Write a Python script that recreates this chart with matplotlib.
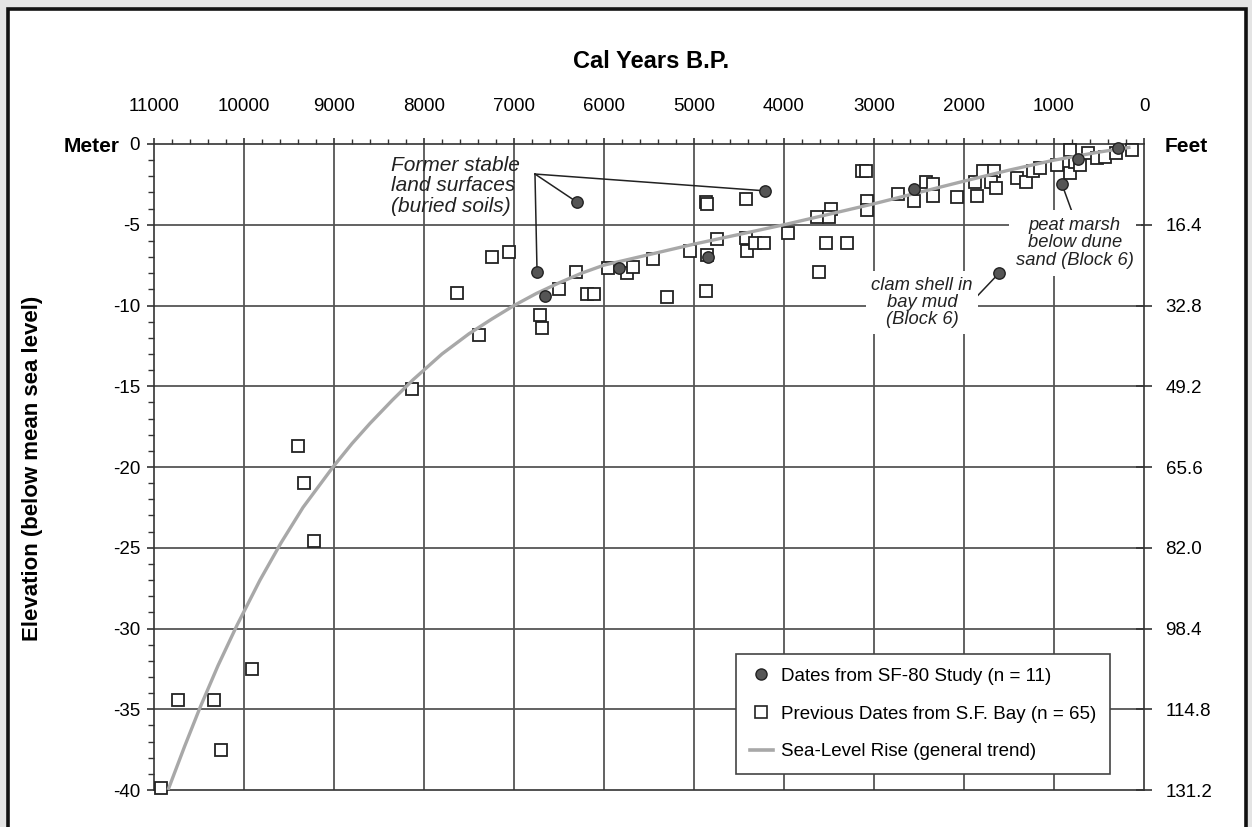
import matplotlib
matplotlib.use("Agg")
import matplotlib.pyplot as plt
from matplotlib.patches import Rectangle
from matplotlib.lines import Line2D
from matplotlib.ticker import MultipleLocator

plt.rcParams['font.family'] = ['Liberation Sans', 'DejaVu Sans']
plt.rcParams['axes.unicode_minus'] = False

# ---------------- data ----------------
# SF-80 study dates (filled circles)
sf80_years = [6300, 4211, 6744, 6656, 5833, 4844, 2556, 911, 1611, 289, 733]
sf80_elev = [-3.6, -2.9, -7.9, -9.4, -7.7, -7.0, -2.8, -2.5, -8.0, -0.25, -0.9]

# Previous dates from S.F. Bay (open squares)
prev_years = [8133, 9400, 9333, 9222, 9911, 10733, 10333, 10256, 10922,
              7244, 7056, 7633, 7389, 6711, 6689,
              6311, 6500, 6189, 6111, 5956,
              5744, 5678, 5456, 5300, 5044, 4867, 4856, 4856, 4867, 4744, 4422, 4422, 4411,
              4322, 4222, 3956, 3633, 3478, 3500, 3533, 3300, 3611, 3133, 3089, 3078, 3078,
              2733, 2556, 2422, 2344, 2344, 2078, 1878, 1856, 1789, 1667, 1700, 1644,
              1411, 1311, 1233, 1156, 967, 822, 822, 767, 711, 622, 522, 433, 311, 133]
prev_elev = [-15.2, -18.7, -21.0, -24.6, -32.5, -34.4, -34.4, -37.5, -39.9,
             -7.0, -6.7, -9.2, -11.8, -10.6, -11.4,
             -7.9, -9.0, -9.3, -9.3, -7.7,
             -8.0, -7.6, -7.1, -9.5, -6.6, -3.6, -3.7, -6.9, -9.1, -5.9, -3.4, -5.8, -6.6,
             -6.1, -6.1, -5.5, -4.5, -4.0, -4.5, -6.1, -6.1, -7.9, -1.7, -1.7, -3.5, -4.1,
             -3.1, -3.5, -2.35, -2.5, -3.2, -3.3, -2.35, -3.2, -1.7, -1.7, -2.35, -2.7,
             -2.1, -2.35, -1.7, -1.5, -1.3, -0.4, -1.8, -1.1, -1.3, -0.55, -0.85, -0.8, -0.55, -0.37]

# Sea-level rise general trend
trend_years = [10844, 10660, 10489, 10289, 10078, 9822, 9589, 9344, 9011, 8800,
               8600, 8350, 8122, 7800, 7500, 7250, 7000, 6750, 6500, 6250, 6000,
               5500, 5000, 4500, 4000, 3500, 3000, 2500, 2000, 1500, 1000, 500, 150]
trend_elev = [-40, -37.3, -34.9, -32.3, -29.8, -27.0, -24.7, -22.5, -20, -18.55,
              -17.3, -15.85, -14.6, -13.0, -11.75, -10.85, -10.0, -9.25, -8.6, -8.0, -7.5,
              -6.85, -6.2, -5.6, -5.0, -4.35, -3.7, -3.0, -2.3, -1.62, -1.0, -0.5, -0.2]

x_ticks = [11000, 10000, 9000, 8000, 7000, 6000, 5000, 4000, 3000, 2000, 1000, 0]
m_ticks = [0, -5, -10, -15, -20, -25, -30, -35, -40]
feet_ticks = [-5, -10, -15, -20, -25, -30, -35, -40]
feet_labels = ['16.4', '32.8', '49.2', '65.6', '82.0', '98.4', '114.8', '131.2']

# ---------------- figure ----------------
W, H = 1252, 827
fig = plt.figure(figsize=(W / 100, H / 100), dpi=100, facecolor='#e4e4e4')

# white page with black frame
fig.patches.append(Rectangle((8 / W, -0.05), (1246 - 8) / W, (H - 9) / H + 0.05,
                             transform=fig.transFigure, facecolor='white',
                             edgecolor='#111111', linewidth=2.6, zorder=-10))

L, R, T, B = 154, 1144, 144, 790
ax = fig.add_axes([L / W, (H - B) / H, (R - L) / W, (B - T) / H])
ax.set_facecolor('none')

ax.set_xlim(11000, 0)
ax.set_ylim(-40, 0)

grid_c = '#555555'
for xv in x_ticks[1:-1]:
    ax.axvline(xv, color=grid_c, lw=1.3, zorder=1)
for yv in m_ticks[1:-1]:
    ax.axhline(yv, color=grid_c, lw=1.3, zorder=1)

# data
ax.plot(prev_years, prev_elev, ls='none', marker='s', ms=8.8, mfc='white',
        mec='#222222', mew=1.3, zorder=3, clip_on=False)
ax.plot(trend_years, trend_elev, color='#a8a8a8', lw=2.4, zorder=4,
        solid_capstyle='butt', solid_joinstyle='round')
ax.plot(sf80_years, sf80_elev, ls='none', marker='o', ms=8.2, mfc='#555555',
        mec='#222222', mew=1.0, zorder=5, clip_on=False)

# spines / ticks
for s in ['top', 'left', 'bottom', 'right']:
    ax.spines[s].set_color('#333333')
    ax.spines[s].set_linewidth(1.2)

ax.xaxis.set_ticks_position('top')
ax.xaxis.set_label_position('top')
ax.set_xticks(x_ticks)
ax.set_xticklabels([str(v) for v in x_ticks])
ax.xaxis.set_minor_locator(MultipleLocator(200))
ax.tick_params(axis='x', which='major', direction='out', length=4, width=1.2,
               color='#333333', pad=17, labelsize=13.5)
ax.tick_params(axis='x', which='minor', direction='out', length=3.5, width=1.0,
               color='#333333')

ax.set_yticks(m_ticks)
ax.set_yticklabels([str(v) for v in m_ticks])
ax.yaxis.set_minor_locator(MultipleLocator(1))
ax.tick_params(axis='y', which='major', direction='out', length=5, width=1.2,
               color='#333333', pad=5, labelsize=13.5)
ax.tick_params(axis='y', which='minor', direction='out', length=4, width=1.0,
               color='#333333')

ax2 = ax.twinx()
ax2.set_ylim(-40, 0)
ax2.set_yticks(feet_ticks)
ax2.set_yticklabels(feet_labels)
ax2.tick_params(axis='y', direction='inout', length=11, width=1.2, color='#333333',
                pad=10, labelsize=13.5)
for s in ax2.spines.values():
    s.set_visible(False)

# axis titles
fig.text(651 / W, 1 - 62 / H, 'Cal Years B.P.', ha='center', va='center',
         fontsize=17, fontweight='bold')
fig.text(92 / W, 1 - 146 / H, 'Meter', ha='center', va='center',
         fontsize=15, fontweight='bold')
fig.text(1186 / W, 1 - 146 / H, 'Feet', ha='center', va='center',
         fontsize=15, fontweight='bold')
fig.text(33 / W, 1 - 468 / H, 'Elevation (below mean sea level)', ha='center',
         va='center', rotation=90, fontsize=16, fontweight='bold')

# annotations
ax.text(8367, -2.6, 'Former stable\nland surfaces\n(buried soils)', ha='left',
        va='center', zorder=6, fontsize=15, style='italic', color='#222222',
        linespacing=1.08)
origin = (6767, -1.86)
for i in [0, 1, 2]:
    ax.plot([origin[0], sf80_years[i]], [origin[1], sf80_elev[i]], color='#222222',
            lw=1.1, zorder=4.5)

small_kw = dict(fontsize=13.2, style='italic', color='#222222', linespacing=1.02)
ax.text(767, -6.13, 'peat marsh\nbelow dune\nsand (Block 6)', ha='center', va='center',
        zorder=6, bbox=dict(facecolor='white', edgecolor='none', pad=5), **small_kw)
ax.plot([sf80_years[7], 800], [sf80_elev[7], -4.2], color='#222222', lw=1.1, zorder=4.5)

ax.text(2467, -9.8, 'clam shell in\nbay mud\n(Block 6)', ha='center', va='center',
        zorder=6, bbox=dict(facecolor='white', edgecolor='none', pad=4), **small_kw)
ax.plot([sf80_years[8], 1867], [sf80_elev[8], -9.5], color='#222222', lw=1.1, zorder=4.5)

# legend
handles = [
    Line2D([], [], ls='none', marker='o', ms=8, mfc='#555555', mec='#222222', mew=1.0),
    Line2D([], [], ls='none', marker='s', ms=8, mfc='white', mec='#222222', mew=1.2),
    Line2D([], [], color='#a8a8a8', lw=2.6),
]
labels = ['Dates from SF-80 Study (n = 11)', 'Previous Dates from S.F. Bay (n = 65)',
          'Sea-Level Rise (general trend)']
leg = ax.legend(handles, labels, loc='upper left',
                bbox_to_anchor=((736 - L) / (R - L), 1 - (654 - T) / (B - T)),
                frameon=True, fancybox=False, edgecolor='#444444', framealpha=1,
                fontsize=13.5, handlelength=1.25, handletextpad=0.45, labelspacing=1.11,
                borderpad=0.72, borderaxespad=0)
leg.get_frame().set_linewidth(1.2)
leg.set_zorder(10)

fig.savefig('out.png', dpi=100, facecolor=fig.get_facecolor())
